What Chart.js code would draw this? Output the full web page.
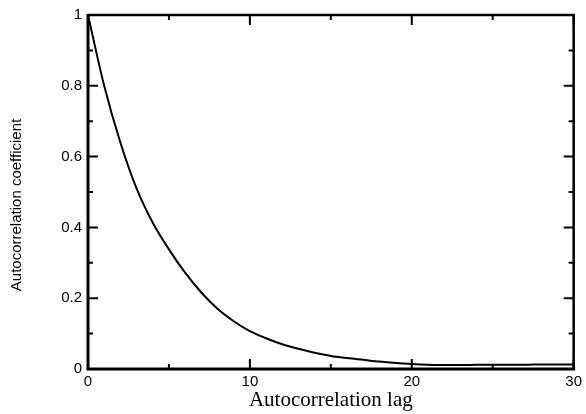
<!DOCTYPE html>
<html>
<head>
<meta charset="utf-8">
<script src="https://cdn.jsdelivr.net/npm/chart.js@4/dist/chart.umd.min.js"></script>
<style>
  html, body { margin: 0; padding: 0; background: #fff; }
  #wrap { width: 586px; height: 414px; }
</style>
</head>
<body>
<div id="wrap"><canvas id="acf" width="586" height="414"></canvas></div>
<script>
// autocorrelation, one value per lag 0..30
const lags = [0, 1, 2, 3, 4, 5, 6, 7, 8, 9, 10, 11, 12, 13, 14, 15, 16, 17, 18, 19, 20,
              21, 22, 23, 24, 25, 26, 27, 28, 29, 30];
const acf = [1.0, 0.80, 0.64, 0.51, 0.413, 0.338, 0.272, 0.216, 0.17, 0.135, 0.107,
             0.087, 0.07, 0.057, 0.046, 0.037, 0.031, 0.026, 0.021, 0.017, 0.014,
             0.012, 0.011, 0.011, 0.012, 0.012, 0.012, 0.012, 0.013, 0.013, 0.013];
const xTicks = [0, 10, 20, 30];
const yTicks = [0, 0.2, 0.4, 0.6, 0.8, 1];
const yTitle = 'Autocorrelation coefficient';

// frame + inward ticks on all four sides, like the original plot
const framePlugin = {
  id: 'frame',
  afterDraw(chart) {
    const { ctx, chartArea: a, scales } = chart;
    const xs = scales.x, ys = scales.y;
    ctx.save();
    ctx.strokeStyle = '#000';
    ctx.lineCap = 'butt';
    ctx.lineWidth = 3;
    ctx.beginPath();
    ctx.moveTo(a.left, a.top - 1); ctx.lineTo(a.left, a.bottom + 1.5);
    ctx.moveTo(a.left - 1.5, a.bottom); ctx.lineTo(a.right + 1.5, a.bottom);
    ctx.stroke();
    ctx.lineWidth = 2.5;
    ctx.beginPath();
    ctx.moveTo(a.left, a.top); ctx.lineTo(a.right + 1.2, a.top);
    ctx.moveTo(a.right, a.top); ctx.lineTo(a.right, a.bottom);
    ctx.stroke();

    ctx.lineWidth = 2;
    ctx.beginPath();
    const major = 10, minor = 5;
    xTicks.forEach((v, i) => {
      const px = xs.getPixelForValue(v);
      ctx.moveTo(px, a.bottom); ctx.lineTo(px, a.bottom - major);
      ctx.moveTo(px, a.top); ctx.lineTo(px, a.top + major);
      if (i < xTicks.length - 1) {
        const m = xs.getPixelForValue((v + xTicks[i + 1]) / 2);
        ctx.moveTo(m, a.bottom); ctx.lineTo(m, a.bottom - minor);
        ctx.moveTo(m, a.top); ctx.lineTo(m, a.top + minor);
      }
    });
    yTicks.forEach((v, i) => {
      const py = ys.getPixelForValue(v);
      ctx.moveTo(a.left, py); ctx.lineTo(a.left + major, py);
      ctx.moveTo(a.right, py); ctx.lineTo(a.right - major, py);
      if (i < yTicks.length - 1) {
        const m = ys.getPixelForValue((v + yTicks[i + 1]) / 2);
        ctx.moveTo(a.left, m); ctx.lineTo(a.left + minor, m);
        ctx.moveTo(a.right, m); ctx.lineTo(a.right - minor, m);
      }
    });
    ctx.stroke();

    // y title sits a bit below the plot's middle in the original
    ctx.translate(17, 205);
    ctx.rotate(-Math.PI / 2);
    ctx.fillStyle = '#000';
    ctx.font = '15px "Liberation Sans"';
    ctx.textAlign = 'center';
    ctx.textBaseline = 'middle';
    ctx.fillText(yTitle, 0, 0);
    ctx.restore();
  }
};

new Chart(document.getElementById('acf'), {
  type: 'line',
  data: {
    datasets: [{
      data: lags.map((l, i) => ({ x: l, y: acf[i] })),
      borderColor: '#000',
      borderWidth: 2,
      pointRadius: 0,
      cubicInterpolationMode: 'monotone',
      fill: false
    }]
  },
  options: {
    responsive: false,
    animation: false,
    layout: { padding: { left: 0, right: 11, top: 10, bottom: 0 } },
    plugins: { legend: { display: false }, tooltip: { enabled: false } },
    scales: {
      x: {
        type: 'linear', min: 0, max: 30,
        grid: { display: false, drawTicks: false },
        border: { display: false },
        afterBuildTicks: s => { s.ticks = xTicks.map(v => ({ value: v })); },
        afterFit: s => { s.height = 45; },
        ticks: { color: '#000', padding: 4, maxRotation: 0,
                 font: { family: 'Liberation Sans', size: 15 } },
        title: { display: true, text: 'Autocorrelation lag', color: '#000',
                 padding: { top: 0, bottom: 1 },
                 font: { family: 'Liberation Serif', size: 21 } }
      },
      y: {
        min: 0, max: 1,
        grid: { display: false, drawTicks: false },
        border: { display: false },
        afterBuildTicks: s => { s.ticks = yTicks.map(v => ({ value: v })); },
        afterFit: s => { s.width = 88; },
        ticks: { color: '#000', padding: 6,
                 font: { family: 'Liberation Sans', size: 15 },
                 callback: v => String(v) },
        title: { display: false }
      }
    }
  },
  plugins: [framePlugin]
});
</script>
</body>
</html>
